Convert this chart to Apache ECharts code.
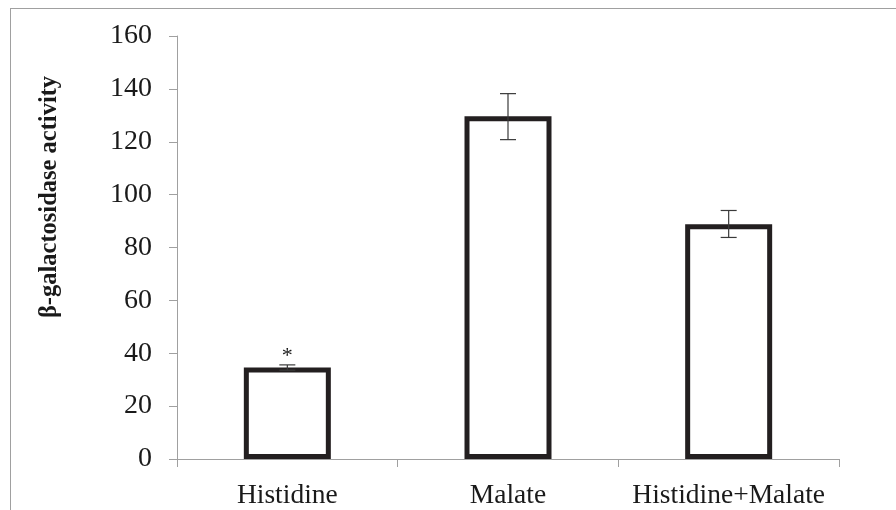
<!DOCTYPE html>
<html>
<head>
<meta charset="utf-8">
<script src="https://cdn.jsdelivr.net/npm/echarts@6/dist/echarts.min.js"></script>
<style>
  html, body { margin: 0; padding: 0; background: #ffffff; }
  #chart { width: 896px; height: 510px; }
</style>
</head>
<body>
<div id="chart"></div>
<script>
const categories = ['Histidine', 'Malate', 'Histidine+Malate'];
const activity = [34.6, 129.6, 88.8];
const errLow = [33.6, 120.8, 83.8];
const errHigh = [35.6, 138.2, 94.0];
const annotations = ['*', '', ''];
const yTicks = [0, 20, 40, 60, 80, 100, 120, 140, 160];
const yTitle = 'β-galactosidase activity';

const chart = echarts.init(document.getElementById('chart'), null, { renderer: 'canvas' });
const serif = '"Liberation Serif", "DejaVu Serif", serif';

chart.setOption({
  animation: false,
  backgroundColor: '#ffffff',
  grid: { left: 177, right: 57, top: 36, bottom: 51 },
  graphic: [
    { type: 'line', shape: { x1: 10, y1: 8.5, x2: 896, y2: 8.5 }, style: { stroke: '#a0a0a0', lineWidth: 1 }, silent: true },
    { type: 'line', shape: { x1: 10.5, y1: 8, x2: 10.5, y2: 510 }, style: { stroke: '#a0a0a0', lineWidth: 1 }, silent: true },
    {
      type: 'text', rotation: Math.PI / 2,
      x: 50, y: 197,
      style: { text: yTitle, font: 'bold 24.5px ' + serif, fill: '#1a1a1a', textAlign: 'center', textVerticalAlign: 'middle' },
      silent: true
    }
  ],
  xAxis: {
    type: 'category',
    data: categories,
    axisLine: { lineStyle: { color: '#a0a0a0', width: 1 } },
    axisTick: { show: true, length: 8, lineStyle: { color: '#a0a0a0' } },
    axisLabel: { interval: 0, color: '#1a1a1a', fontSize: 27.5, fontFamily: serif, margin: 23 }
  },
  yAxis: {
    type: 'value',
    min: yTicks[0],
    max: yTicks[yTicks.length - 1],
    interval: 20,
    axisLine: { show: true, lineStyle: { color: '#a0a0a0', width: 1 } },
    axisTick: { show: true, length: 8, lineStyle: { color: '#a0a0a0' } },
    splitLine: { show: false },
    axisLabel: { color: '#1a1a1a', fontSize: 28, fontFamily: serif, margin: 25 }
  },
  series: [
    {
      type: 'bar',
      data: activity.map((v, i) => ({
        value: v,
        label: {
          show: annotations[i] !== '',
          formatter: annotations[i],
          position: 'top',
          distance: 0,
          fontSize: 22,
          fontFamily: serif,
          color: '#1a1a1a'
        }
      })),
      barWidth: 87,
      itemStyle: { color: '#ffffff', borderColor: '#231f20', borderWidth: 5 },
      z: 2
    },
    {
      type: 'custom',
      z: 3,
      data: categories.map((c, i) => [i, errLow[i], errHigh[i]]),
      renderItem: function (params, api) {
        const x = api.value(0);
        const lo = api.coord([x, api.value(1)]);
        const hi = api.coord([x, api.value(2)]);
        const hw = 8;
        const style = { stroke: '#3a3a3a', lineWidth: 1.2 };
        return {
          type: 'group',
          children: [
            { type: 'line', shape: { x1: lo[0], y1: lo[1], x2: hi[0], y2: hi[1] }, style: style },
            { type: 'line', shape: { x1: hi[0] - hw, y1: hi[1], x2: hi[0] + hw, y2: hi[1] }, style: style },
            { type: 'line', shape: { x1: lo[0] - hw, y1: lo[1], x2: lo[0] + hw, y2: lo[1] }, style: style }
          ]
        };
      }
    }
  ]
});
</script>
</body>
</html>
